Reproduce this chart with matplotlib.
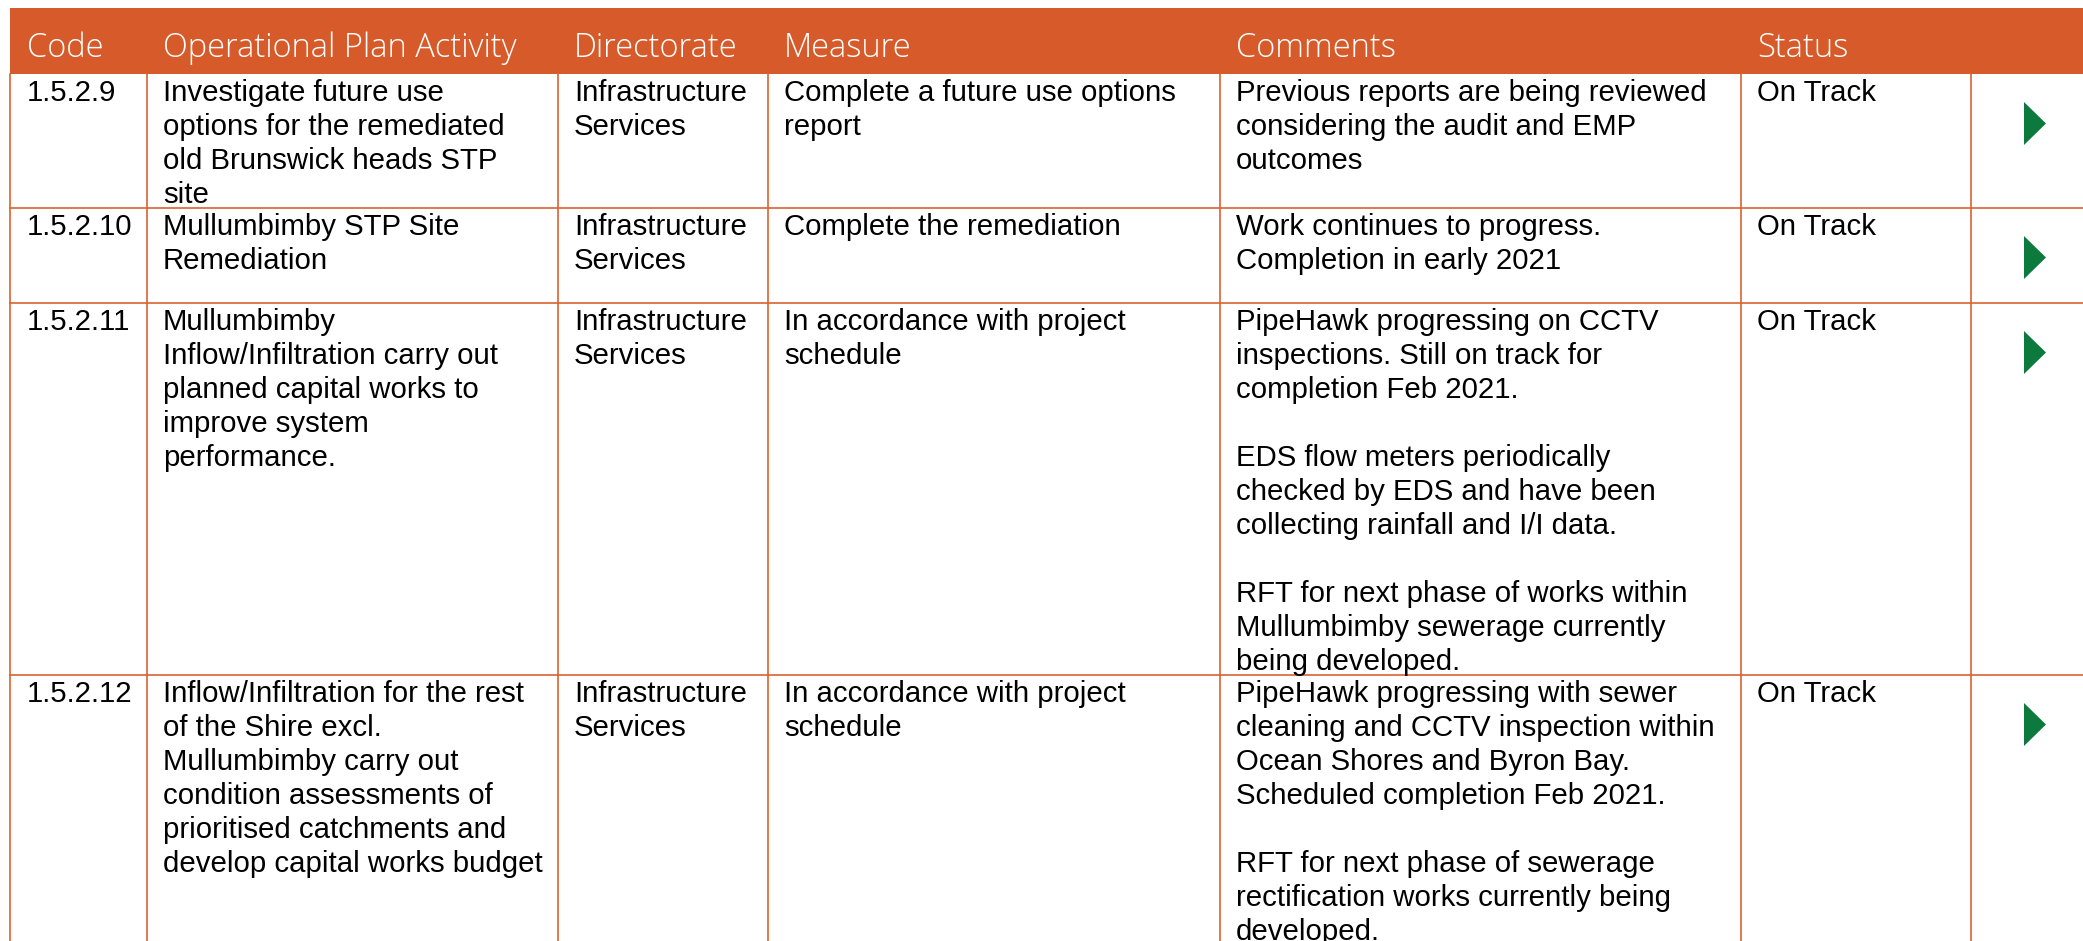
import matplotlib
matplotlib.use("Agg")
import matplotlib.pyplot as plt
from matplotlib.patches import Rectangle, Polygon

# table content
headers = ["Code", "Operational Plan Activity", "Directorate", "Measure", "Comments", "Status", ""]
codes = ["1.5.2.9", "1.5.2.10", "1.5.2.11", "1.5.2.12"]
activities = [
    ["Investigate future use", "options for the remediated", "old Brunswick heads STP", "site"],
    ["Mullumbimby STP Site", "Remediation"],
    ["Mullumbimby", "Inflow/Infiltration carry out", "planned capital works to", "improve system", "performance."],
    ["Inflow/Infiltration for the rest", "of the Shire excl.", "Mullumbimby carry out",
     "condition assessments of", "prioritised catchments and", "develop capital works budget"],
]
directorates = [["Infrastructure", "Services"]] * 4
measures = [
    ["Complete a future use options", "report"],
    ["Complete the remediation"],
    ["In accordance with project", "schedule"],
    ["In accordance with project", "schedule"],
]
comments = [
    ["Previous reports are being reviewed", "considering the audit and EMP", "outcomes"],
    ["Work continues to progress.", "Completion in early 2021"],
    ["PipeHawk progressing on CCTV", "inspections. Still on track for", "completion Feb 2021.", "",
     "EDS flow meters periodically", "checked by EDS and have been", "collecting rainfall and I/I data.", "",
     "RFT for next phase of works within", "Mullumbimby sewerage currently", "being developed."],
    ["PipeHawk progressing with sewer", "cleaning and CCTV inspection within",
     "Ocean Shores and Byron Bay.", "Scheduled completion Feb 2021.", "",
     "RFT for next phase of sewerage", "rectification works currently being", "developed."],
]
statuses = ["On Track", "On Track", "On Track", "On Track"]

# layout (pixels)
W, H = 2083, 941
col_edges = [10, 147, 558, 768, 1220, 1741, 1971, W]
header_top, header_bot = 8, 74
row_edges = [74, 208, 303, 675, H]
line_h = 34
pad_x = 16

orange = "#D75B2A"
line_col = "#D9622F"
green = "#0B7A3C"

fig = plt.figure(figsize=(W / 100, H / 100), dpi=100)
ax = fig.add_axes([0, 0, 1, 1])
ax.set_xlim(0, W)
ax.set_ylim(H, 0)
ax.axis("off")

# header band
ax.add_patch(Rectangle((col_edges[0], header_top), W - col_edges[0], header_bot - header_top,
                       facecolor=orange, edgecolor="none"))
for i, h in enumerate(headers):
    ax.text(col_edges[i] + pad_x + (1 if i == 0 else 0), 57, h, color="white",
            fontsize=23.5, family=["Open Sans", "DejaVu Sans"], fontweight="light", va="baseline")

# grid lines
for y in row_edges[1:-1]:
    ax.plot([col_edges[0], W], [y, y], color=line_col, lw=1.2)
for x in col_edges[:-1]:
    ax.plot([x, x], [header_bot, H], color=line_col, lw=1.2)

# body cells
body_font = dict(fontsize=21.2, family=["Liberation Sans", "DejaVu Sans"], color="black", va="baseline")
for r in range(len(codes)):
    top = row_edges[r]
    cells = [[codes[r]], activities[r], directorates[r], measures[r], comments[r], [statuses[r]]]
    for c, lines in enumerate(cells):
        for k, s in enumerate(lines):
            ax.text(col_edges[c] + pad_x + (1 if c == 0 else 0), top + 27 + k * line_h, s, **body_font)
    # status arrow
    ax.add_patch(Polygon([(2024, top + 28), (2024, top + 71), (2046, top + 49.5)],
                         closed=True, facecolor=green, edgecolor="none"))

fig.savefig("out.png", dpi=100)
